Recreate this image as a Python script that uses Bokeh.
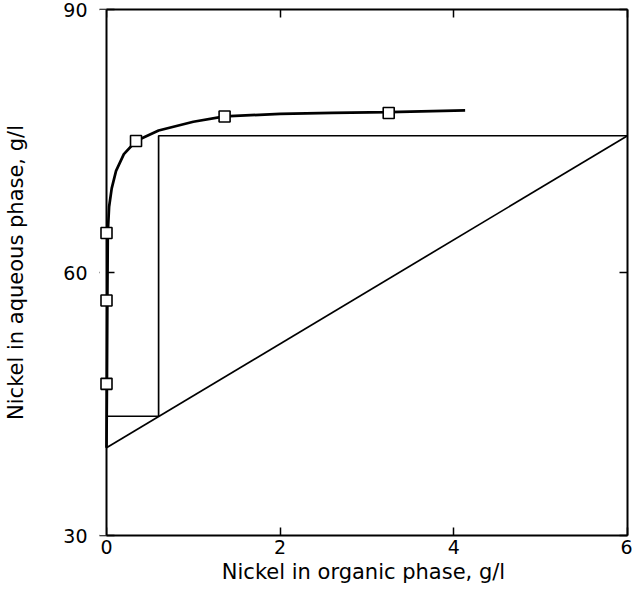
from bokeh.plotting import figure
from bokeh.models import LinearAxis, FixedTicker, Range1d, CustomLabelingPolicy, Span, BoxAnnotation
from bokeh.embed import file_html
from bokeh.resources import INLINE

# Equilibrium curve (hand-traced)
curve_x = [0.0, 0.005, 0.01, 0.015, 0.03, 0.06, 0.11, 0.2, 0.34, 0.6, 1.0, 1.36, 2.0, 2.6, 3.25, 4.13]
curve_y = [40.0, 47.3, 56.8, 64.5, 67.5, 69.6, 71.6, 73.5, 75.0, 76.2, 77.2, 77.8, 78.1, 78.2, 78.3, 78.5]

# Experimental points (squares)
eq_x = [0.0, 0.0, 0.0, 0.34, 1.36, 3.25]
eq_y = [47.3, 56.8, 64.5, 75.0, 77.8, 78.2]

# Operating line
op_x = [0.0, 6.0]
op_y = [40.0, 75.6]

# Stage construction (steps)
step_x = [6.0, 0.6, 0.6, 0.0]
step_y = [75.6, 75.6, 43.6, 43.6]

x_ticks = [0, 2, 4, 6]
y_ticks = [30, 60, 90]

FONT = "DejaVu Sans"
TICK_FS = "19px"
LABEL_FS = "21px"

W, H = 632, 589
AXIS_LEFT = 106          # canvas x of the x=0 line
PAD = 7                  # px of frame kept left of x=0 so markers on the axis are whole
BR, BT, BB = 5, 9, 54
X0, X1, Y0, Y1 = 0, 6, 30, 90
TICK = 8

frame_w = W - (AXIS_LEFT - PAD) - BR
px_per_x = (frame_w - PAD) / (X1 - X0)
x_pad = PAD / px_per_x

p = figure(width=W, height=H, output_backend="svg", toolbar_location=None,
           x_range=Range1d(X0 - x_pad, X1), y_range=Range1d(Y0, Y1),
           min_border_left=AXIS_LEFT - PAD, min_border_right=BR,
           min_border_top=BT, min_border_bottom=BB,
           x_axis_label="Nickel in organic phase, g/l",
           y_axis_label="Nickel in aqueous phase, g/l")

p.grid.visible = False
p.outline_line_color = None
p.background_fill_color = "white"
p.border_fill_color = "white"

for ax in p.xaxis:
    ax.ticker = FixedTicker(ticks=x_ticks)
    ax.bounds = (X0, X1)
    ax.major_label_standoff = 4
    ax.axis_label_standoff = 3
    ax.major_tick_in = TICK
for ax in p.yaxis:
    ax.ticker = FixedTicker(ticks=y_ticks)
    ax.axis_line_color = None
    ax.major_tick_in = TICK + PAD
    ax.major_label_standoff = 12
    ax.axis_label_standoff = 32

for ax in list(p.xaxis) + list(p.yaxis):
    ax.major_tick_out = 0
    ax.minor_tick_in = 0
    ax.minor_tick_out = 0
    ax.major_tick_line_width = 1.5
    ax.axis_line_width = 2
    ax.major_label_text_font = FONT
    ax.major_label_text_font_size = TICK_FS
    ax.major_label_text_color = "black"
    ax.axis_label_text_font = FONT
    ax.axis_label_text_font_size = LABEL_FS
    ax.axis_label_text_font_style = "normal"
    ax.axis_label_text_color = "black"

hide_all = "for (const i of indices) { indices.unset(i) }\nreturn indices"

top = LinearAxis(ticker=FixedTicker(ticks=x_ticks), bounds=(X0, X1),
                 major_label_text_font_size="0px",
                 major_label_policy=CustomLabelingPolicy(code=hide_all),
                 major_tick_in=TICK, major_tick_out=0, minor_tick_in=0, minor_tick_out=0,
                 major_label_standoff=0, axis_line_width=2, major_tick_line_width=1.5)
right = LinearAxis(ticker=FixedTicker(ticks=y_ticks), major_label_text_font_size="0px",
                   major_label_policy=CustomLabelingPolicy(code=hide_all),
                   major_tick_in=TICK, major_tick_out=0, minor_tick_in=0, minor_tick_out=0,
                   major_label_standoff=0, axis_line_width=2, major_tick_line_width=1.5)
p.add_layout(top, "above")
p.add_layout(right, "right")

# blank strip left of x=0 (hides the start of the left ticks), then the x=0 frame line
p.add_layout(BoxAnnotation(right=X0, fill_color="white", fill_alpha=1.0,
                           line_color=None, level="annotation"))
p.add_layout(Span(location=X0, dimension="height", line_color="black",
                  line_width=2, level="annotation"))

p.line(op_x, op_y, line_color="black", line_width=1.7)
p.line(step_x, step_y, line_color="black", line_width=1.7)
p.line(curve_x, curve_y, line_color="black", line_width=2.7, level="overlay")
p.scatter(eq_x, eq_y, marker="square", size=11, fill_color="white",
          line_color="black", line_width=1.6, level="overlay")

open("out.html", "w").write(file_html(p, INLINE))
